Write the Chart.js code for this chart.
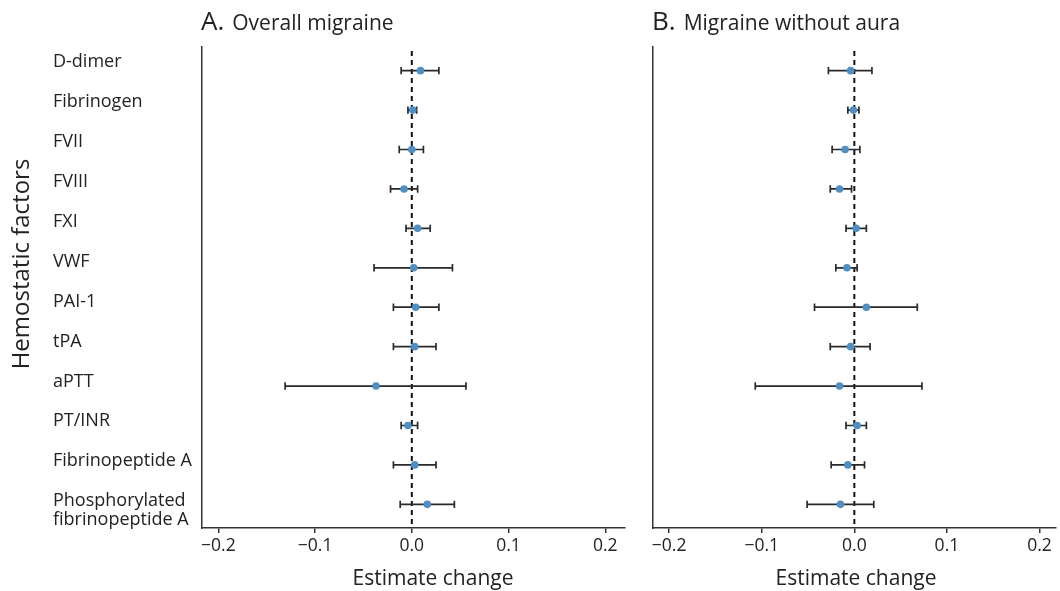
<!DOCTYPE html>
<html lang="en">
<head>
    <meta charset="UTF-8">
    <title>Hemostatic factors and migraine</title>
    <script src="https://cdn.jsdelivr.net/npm/chart.js"></script>
    <style>
        body {
            margin: 0;
            background: #fff;
            font-family: "Open Sans", sans-serif;
        }
        #wrap {
            position: relative;
            width: 1060px;
            height: 591px;
        }
        canvas {
            position: absolute;
            top: 0;
        }
        #panelA { left: 0; }
        #panelB { left: 640px; }
    </style>
</head>
<body>
    <div id="wrap">
        <canvas id="panelA" width="640" height="591"></canvas>
        <canvas id="panelB" width="420" height="591"></canvas>
    </div>

    <script>
        // hemostatic factors (rows, top to bottom)
        const factors = ['D-dimer', 'Fibrinogen', 'FVII', 'FVIII', 'FXI', 'VWF', 'PAI-1', 'tPA',
            'aPTT', 'PT/INR', 'Fibrinopeptide A', ['Phosphorylated', 'fibrinopeptide A']];

        // A. overall migraine
        const overallEst  = [0.009, 0.001, 0.000, -0.008, 0.006, 0.002, 0.004, 0.003, -0.037, -0.004, 0.003, 0.016];
        const overallLow  = [-0.011, -0.004, -0.013, -0.022, -0.006, -0.039, -0.019, -0.019, -0.131, -0.011, -0.019, -0.012];
        const overallHigh = [0.028, 0.005, 0.012, 0.006, 0.019, 0.042, 0.028, 0.025, 0.056, 0.006, 0.025, 0.044];

        // B. migraine without aura
        const noAuraEst  = [-0.004, -0.001, -0.010, -0.016, 0.002, -0.008, 0.013, -0.004, -0.016, 0.003, -0.007, -0.015];
        const noAuraLow  = [-0.028, -0.007, -0.024, -0.026, -0.009, -0.020, -0.043, -0.026, -0.107, -0.009, -0.025, -0.051];
        const noAuraHigh = [0.019, 0.005, 0.006, -0.003, 0.013, 0.003, 0.068, 0.017, 0.073, 0.013, 0.011, 0.021];

        const xTicks = [-0.2, -0.1, 0.0, 0.1, 0.2];
        const refValue = 0;

        const FONT = '"Open Sans", sans-serif';
        const INK = '#222';
        const AXIS = '#333';

        // dashed zero line + error bars, drawn under the points
        const errorBars = {
            id: 'errorBars',
            beforeDatasetsDraw(chart, args, opts) {
                const ctx = chart.ctx;
                const x = chart.scales.x, y = chart.scales.y;
                const area = chart.chartArea;
                ctx.save();
                ctx.strokeStyle = '#111';
                ctx.lineWidth = 2;
                ctx.setLineDash([5, 4]);
                const x0 = x.getPixelForValue(refValue);
                ctx.beginPath();
                ctx.moveTo(x0, area.top + 4);
                ctx.lineTo(x0, area.bottom);
                ctx.stroke();
                ctx.setLineDash([]);
                ctx.strokeStyle = '#2a2a2a';
                ctx.lineWidth = 1.7;
                opts.low.forEach((lo, i) => {
                    const py = y.getPixelForValue(i);
                    const a = x.getPixelForValue(lo);
                    const b = x.getPixelForValue(opts.high[i]);
                    ctx.beginPath();
                    ctx.moveTo(a, py); ctx.lineTo(b, py);
                    ctx.moveTo(a, py - 3.7); ctx.lineTo(a, py + 3.7);
                    ctx.moveTo(b, py - 3.7); ctx.lineTo(b, py + 3.7);
                    ctx.stroke();
                });
                ctx.restore();
            }
        };

        // panel title and axis titles
        const panelText = {
            id: 'panelText',
            afterDraw(chart, args, opts) {
                const ctx = chart.ctx;
                ctx.save();
                ctx.fillStyle = INK;
                ctx.textBaseline = 'alphabetic';
                // title: big letter + smaller text
                ctx.textAlign = 'left';
                ctx.font = '26px ' + FONT;
                ctx.fillText(opts.letter, opts.titleX, 30);
                const w = ctx.measureText(opts.letter).width;
                ctx.font = '21px ' + FONT;
                ctx.fillText(opts.title, opts.titleX + w + 8, 30);
                // x axis title
                ctx.textAlign = 'center';
                ctx.font = '21px ' + FONT;
                ctx.fillText('Estimate change', opts.xTitleX, 585);
                // y axis title
                if (opts.yTitle) {
                    ctx.font = '24px ' + FONT;
                    ctx.translate(29, 264);
                    ctx.rotate(-Math.PI / 2);
                    ctx.fillText(opts.yTitle, 0, 0);
                }
                ctx.restore();
            }
        };

        function makePanel(id, est, low, high, cfg) {
            const ctx = document.getElementById(id).getContext('2d');
            return new Chart(ctx, {
                type: 'scatter',
                data: {
                    datasets: [{
                        data: est.map((v, i) => ({ x: v, y: i })),
                        backgroundColor: '#4f8fc3',
                        borderColor: '#4f8fc3',
                        pointRadius: 3.8,
                        borderWidth: 0,
                        yAxisID: 'y'
                    }]
                },
                options: {
                    responsive: false,
                    animation: false,
                    layout: { padding: { left: cfg.padLeft, right: cfg.padRight, top: 47, bottom: 0 } },
                    plugins: {
                        legend: { display: false },
                        tooltip: { enabled: false },
                        errorBars: { low: low, high: high },
                        panelText: cfg.text
                    },
                    scales: {
                        x: {
                            type: 'linear',
                            min: cfg.xMin,
                            max: cfg.xMax,
                            afterBuildTicks: axis => { axis.ticks = xTicks.map(v => ({ value: v })); },
                            afterFit: s => { s.height = 63; },
                            ticks: {
                                callback: v => (v < 0 ? '\u2212' : '') + Math.abs(v).toFixed(1),
                                font: { family: FONT, size: 17.5 },
                                color: INK,
                                padding: 3
                            },
                            grid: {
                                display: true,
                                drawOnChartArea: false,
                                drawTicks: true,
                                tickLength: 5,
                                color: AXIS,
                                lineWidth: 1.5
                            },
                            border: { display: true, color: AXIS, width: 1.5 }
                        },
                        y: {
                            type: 'linear',
                            display: false,
                            reverse: true,
                            min: -0.6,
                            max: 11.6
                        },
                        yl: {
                            type: 'linear',
                            position: 'left',
                            reverse: true,
                            min: -0.37,
                            max: 11.67,
                            afterBuildTicks: axis => {
                                axis.ticks = factors.map((f, i) => ({ value: i + (Array.isArray(f) ? 0.23 : 0) }));
                            },
                            afterFit: s => { s.width = cfg.yWidth; },
                            ticks: {
                                display: cfg.showLabels,
                                crossAlign: 'far',
                                callback: (v, i) => factors[i],
                                font: { family: FONT, size: 18, lineHeight: 1.04 },
                                color: INK
                            },
                            grid: { display: true, drawOnChartArea: false, drawTicks: false, color: AXIS },
                            border: { display: true, color: AXIS, width: 1.5 }
                        }
                    }
                },
                plugins: [errorBars, panelText]
            });
        }

        makePanel('panelA', overallEst, overallLow, overallHigh, {
            padLeft: 53, padRight: 15, yWidth: 149, showLabels: true,
            xMin: -0.2169, xMax: 0.2204,
            text: { letter: 'A.', title: 'Overall migraine', titleX: 201, xTitleX: 433, yTitle: 'Hemostatic factors' }
        });

        makePanel('panelB', noAuraEst, noAuraLow, noAuraHigh, {
            padLeft: 0, padRight: 0, yWidth: 12.3, showLabels: false,
            xMin: -0.2182, xMax: 0.2178,
            text: { letter: 'B.', title: 'Migraine without aura', titleX: 12, xTitleX: 216, yTitle: null }
        });
    </script>
</body>
</html>
